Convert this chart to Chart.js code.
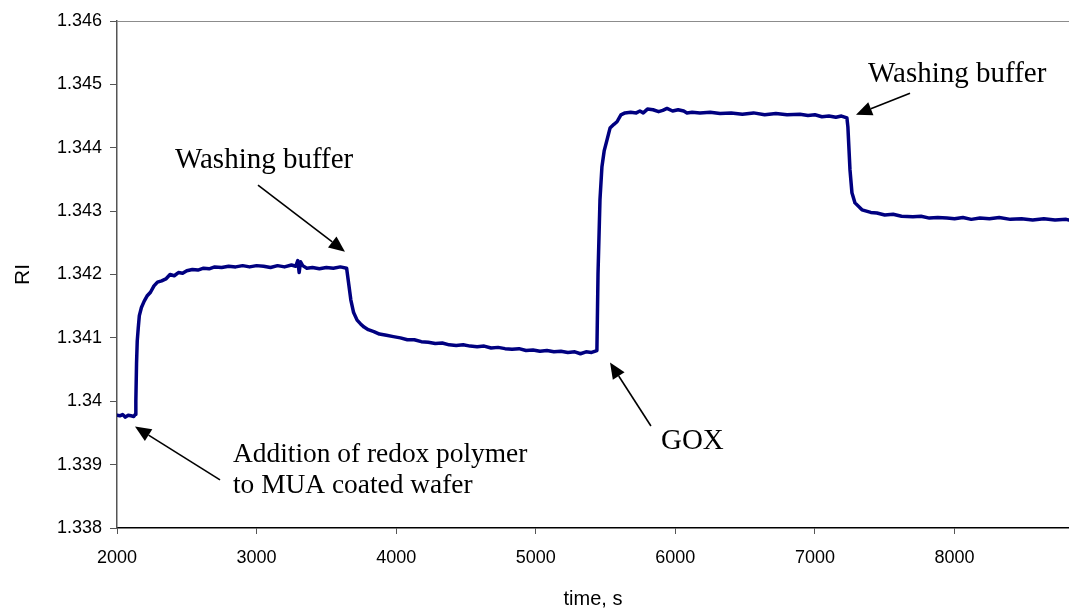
<!DOCTYPE html>
<html>
<head>
<meta charset="utf-8">
<script src="https://cdn.jsdelivr.net/npm/chart.js@4.4.1/dist/chart.umd.min.js"></script>
<style>
  html, body { margin: 0; padding: 0; background: #fff; overflow: hidden; }
  #wrap { width: 1069px; height: 611px; }
</style>
</head>
<body>
<div id="wrap"><canvas id="ri"></canvas></div>
<script>
// time, s
const times = [
  2000, 2020, 2040, 2060, 2080, 2100, 2120, 2130,
  2135, 2140, 2145, 2152, 2160, 2175, 2195, 2215, 2240, 2265, 2290, 2320, 2350, 2380,
  2410, 2440, 2470, 2500, 2540, 2580, 2620, 2660, 2700, 2750, 2800, 2850, 2900, 2950,
  3000, 3050, 3100, 3150, 3200, 3250, 3280, 3295, 3305, 3315, 3330, 3360, 3400, 3450,
  3500, 3550, 3600, 3645,
  3660, 3675, 3695, 3720, 3745, 3770, 3800, 3840, 3880, 3930, 3980, 4030, 4080, 4130,
  4180, 4230, 4280, 4330, 4380, 4430, 4480, 4530, 4580, 4630, 4680, 4730, 4780, 4830,
  4880, 4930, 4980, 5030, 5080, 5130, 5180, 5230, 5280, 5320, 5360, 5400, 5438,
  5446, 5460, 5474, 5490, 5510, 5532, 5560, 5582, 5610, 5639, 5680, 5720, 5746, 5770,
  5800, 5840, 5880, 5910, 5940, 5980, 6020, 6060, 6083, 6120, 6176, 6250, 6320, 6400,
  6480, 6560, 6640, 6720, 6800, 6893, 6950, 7000, 7050, 7100, 7150, 7190, 7229,
  7236, 7251, 7265, 7287, 7337, 7400, 7444, 7500, 7560, 7620, 7702, 7760, 7820, 7880,
  7946, 8000, 8060, 8120, 8182, 8250, 8320, 8400, 8480, 8560, 8640, 8720, 8800, 8820
];

// RI
const riValues = [
  1.33978, 1.33977, 1.33979, 1.33975, 1.33978, 1.33977, 1.33976, 1.33979,
  1.34000, 1.34060, 1.34095, 1.34115, 1.34135, 1.34148, 1.34158, 1.34166, 1.34172, 1.34182, 1.34188, 1.34190, 1.34193, 1.34200,
  1.34198, 1.34203, 1.34202, 1.34206, 1.34208, 1.34207, 1.34210, 1.34209, 1.34212, 1.34211, 1.34213, 1.34212, 1.34214, 1.34212,
  1.34214, 1.34213, 1.34211, 1.34214, 1.34212, 1.34215, 1.34213, 1.34222, 1.34203, 1.34220, 1.34214, 1.34210, 1.34211, 1.34209,
  1.34211, 1.34210, 1.34212, 1.34210,
  1.34185, 1.34160, 1.34140, 1.34128, 1.34122, 1.34117, 1.34113, 1.34110, 1.34106, 1.34104, 1.34102, 1.34100, 1.34097, 1.34097,
  1.34094, 1.34093, 1.34091, 1.34092, 1.34089, 1.34088, 1.34089, 1.34087, 1.34086, 1.34087, 1.34084, 1.34085, 1.34083, 1.34082,
  1.34083, 1.34080, 1.34081, 1.34079, 1.34080, 1.34078, 1.34079, 1.34077, 1.34078, 1.34075, 1.34078, 1.34077, 1.34080,
  1.34202, 1.34318, 1.34370, 1.34395, 1.34412, 1.34431, 1.34437, 1.34441, 1.34452, 1.34455, 1.34456, 1.34455, 1.34458, 1.34455,
  1.34461, 1.34460, 1.34457, 1.34459, 1.34462, 1.34458, 1.34460, 1.34458, 1.34455, 1.34456, 1.34455, 1.34456, 1.34454, 1.34455,
  1.34453, 1.34455, 1.34452, 1.34454, 1.34452, 1.34453, 1.34451, 1.34452, 1.34449, 1.34450, 1.34448, 1.34450, 1.34447,
  1.34433, 1.34365, 1.34329, 1.34313, 1.34302, 1.34298, 1.34297, 1.34294, 1.34295, 1.34292, 1.34291, 1.34292, 1.34289, 1.34290,
  1.34289, 1.34288, 1.34290, 1.34287, 1.34289, 1.34288, 1.34290, 1.34287, 1.34288, 1.34286, 1.34288, 1.34286, 1.34287, 1.34286
];

const xTicks = [2000, 3000, 4000, 5000, 6000, 7000, 8000];
const xTickLabels = ['2000', '3000', '4000', '5000', '6000', '7000', '8000'];
const yTicks = [1.338, 1.339, 1.34, 1.341, 1.342, 1.343, 1.344, 1.345, 1.346];
const yTickLabels = ['1.338', '1.339', '1.34', '1.341', '1.342', '1.343', '1.344', '1.345', '1.346'];

// labels and arrows, placed in data units (time, RI)
const notes = [
  { lines: ['Washing buffer'], x: 2415, y: 1.34368, size: 29 },
  { lines: ['Washing buffer'], x: 7380, y: 1.34504, size: 29 },
  { lines: ['GOX'], x: 5897, y: 1.33925, size: 29 },
  { lines: ['Addition of redox polymer', 'to MUA coated wafer'], x: 2831, y: 1.33904, size: 27.4 }
];
const arrows = [
  { from: [3010, 1.34341], to: [3633, 1.34236] },
  { from: [7681, 1.34486], to: [7294, 1.34452] },
  { from: [5825, 1.33961], to: [5532, 1.34061] },
  { from: [2738, 1.33876], to: [2129, 1.33960] }
];

const points = times.map((t, i) => ({ x: t, y: riValues[i] }));

const notesPlugin = {
  id: 'notes',
  afterDatasetsDraw(chart) {
    const ctx = chart.ctx;
    const xs = chart.scales.x, ys = chart.scales.y;
    const area = chart.chartArea;
    ctx.save();

    // top frame line
    ctx.strokeStyle = '#8c8c8c';
    ctx.lineWidth = 1;
    ctx.beginPath();
    ctx.moveTo(area.left, area.top + 0.5);
    ctx.lineTo(area.right, area.top + 0.5);
    ctx.stroke();

    ctx.fillStyle = '#000';
    ctx.textBaseline = 'alphabetic';
    ctx.textAlign = 'left';
    notes.forEach(n => {
      ctx.font = n.size + 'px "Liberation Serif", "Times New Roman", serif';
      const px = xs.getPixelForValue(n.x);
      const py = ys.getPixelForValue(n.y);
      n.lines.forEach((line, k) => ctx.fillText(line, px, py + k * 31));
    });

    ctx.strokeStyle = '#000';
    ctx.lineWidth = 1.6;
    arrows.forEach(a => {
      const x1 = xs.getPixelForValue(a.from[0]), y1 = ys.getPixelForValue(a.from[1]);
      const x2 = xs.getPixelForValue(a.to[0]), y2 = ys.getPixelForValue(a.to[1]);
      const ang = Math.atan2(y2 - y1, x2 - x1);
      const headLen = 16, headW = 7;
      const bx = x2 - headLen * Math.cos(ang), by = y2 - headLen * Math.sin(ang);
      ctx.beginPath();
      ctx.moveTo(x1, y1);
      ctx.lineTo(bx, by);
      ctx.stroke();
      ctx.beginPath();
      ctx.moveTo(x2, y2);
      ctx.lineTo(bx + headW * Math.sin(ang), by - headW * Math.cos(ang));
      ctx.lineTo(bx - headW * Math.sin(ang), by + headW * Math.cos(ang));
      ctx.closePath();
      ctx.fill();
    });
    ctx.restore();
  }
};

const tickFont = { family: '"Liberation Sans", Arial, sans-serif', size: 18 };

new Chart(document.getElementById('ri'), {
  type: 'line',
  data: {
    datasets: [{
      data: points,
      borderColor: '#000080',
      borderWidth: 3.5,
      borderJoinStyle: 'round',
      borderCapStyle: 'round',
      pointRadius: 0,
      tension: 0,
      fill: false
    }]
  },
  options: {
    responsive: true,
    maintainAspectRatio: false,
    animation: false,
    layout: { padding: { top: 21, right: 0, left: 0, bottom: 0 } },
    plugins: {
      legend: { display: false },
      tooltip: { enabled: false }
    },
    scales: {
      x: {
        type: 'linear',
        min: 2000,
        max: 8820,
        afterBuildTicks: scale => { scale.ticks = xTicks.map(v => ({ value: v })); },
        afterFit: scale => { scale.height = 83; },
        grid: { display: true, drawOnChartArea: false, drawTicks: true, tickLength: 6, tickColor: '#555' },
        border: { display: true, color: '#000', width: 1.5 },
        ticks: { color: '#000', font: tickFont, padding: 13, maxRotation: 0, callback: (v, i) => xTickLabels[i] },
        title: {
          display: true,
          text: 'time, s',
          color: '#000',
          font: { family: '"Liberation Sans", Arial, sans-serif', size: 20 },
          padding: { top: 0, bottom: 0 }
        }
      },
      y: {
        min: 1.338,
        max: 1.346,
        afterBuildTicks: scale => { scale.ticks = yTicks.map(v => ({ value: v })); },
        afterFit: scale => { scale.width = 117; },
        grid: { display: true, drawOnChartArea: false, drawTicks: true, tickLength: 7, tickColor: '#555' },
        border: { display: true, color: '#555', width: 1.5 },
        ticks: {
          color: '#000',
          font: tickFont,
          padding: 8,
          callback: (v, i) => yTickLabels[i]
        },
        title: {
          display: true,
          text: 'RI',
          color: '#000',
          font: { family: '"Liberation Sans", Arial, sans-serif', size: 21 },
          padding: { top: 11, bottom: 0 }
        }
      }
    }
  },
  plugins: [notesPlugin]
});
</script>
</body>
</html>
